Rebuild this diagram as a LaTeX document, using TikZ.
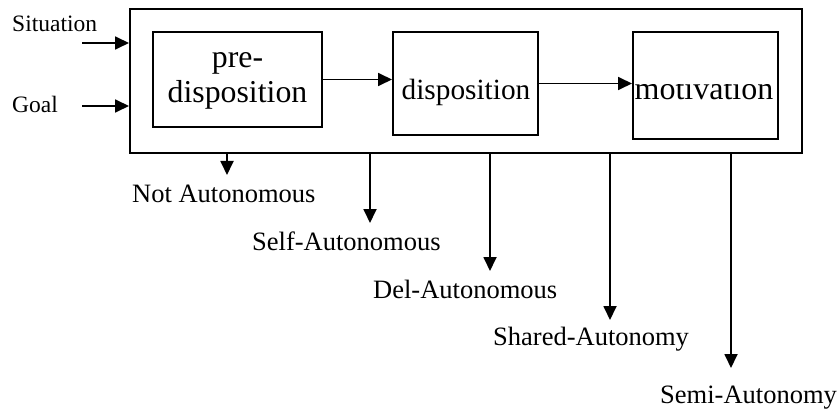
\documentclass[tikz,border=0pt]{standalone}
\usepackage{fontspec}
\setmainfont{Liberation Serif}
\usetikzlibrary{arrows.meta,positioning}

\begin{document}
\begin{tikzpicture}[x=1pt,y=-1pt,>={Triangle[length=14pt,width=13pt]},
    frame/.style={draw, line width=2pt, inner sep=0pt, minimum width=672pt, minimum height=144pt},
    stage/.style={draw, line width=2pt, inner sep=0pt},
    stagetext/.style={inner sep=0pt, anchor=base},
    input/.style={inner sep=0pt, anchor=base west, font=\fontsize{23.5}{27}\selectfont},
    outcome/.style={inner sep=0pt, anchor=base west, font=\fontsize{26.5}{30}\selectfont},
    link/.style={->, line width=1.8pt}]

      \useasboundingbox (0,0) rectangle (838,409);

      \node[frame] (agent) at (466,81) {};
      \node[stage, minimum width=169pt, minimum height=95pt] (pre) at (237.5,79.5) {};
      \node[stage, minimum width=145pt, minimum height=103pt] (disp) at (465.5,83.5) {};
      \node[stage, minimum width=145pt, minimum height=107pt] (motiv) at (705.5,85.5) {};

      \node[stagetext, anchor=center, align=center, font=\fontsize{31.8}{35}\selectfont] (preTxt) at (237.5,81) {pre-\\disposition};
      \node[stagetext, font=\fontsize{29.3}{33}\selectfont] (dispTxt) at (466,100) {disposition};
      \begin{scope}
        \clip (633,85) rectangle (778,101);
        \node[stagetext, font=\fontsize{32}{36}\selectfont] (motivTxt) at (704,99.5) {motivation};
      \end{scope}

      \node[input] (situation) at (12,32) {Situation};
      \node[input] (goal) at (12,113) {Goal};
      \coordinate (sitIn) at (82,43);
      \coordinate (goalIn) at (82,106);

      \node[outcome] (notA) at (132,202) {Not Autonomous};
      \node[outcome] (selfA) at (252,250) {Self-Autonomous};
      \node[outcome] (delA) at (373,298) {Del-Autonomous};
      \node[outcome] (sharedA) at (493,345) {Shared-Autonomy};
      \node[outcome] (semiA) at (660,403) {Semi-Autonomy};

      \coordinate (notTip) at (227,175);
      \coordinate (selfTip) at (370,223);
      \coordinate (delTip) at (490,271);
      \coordinate (sharedTip) at (610,320);
      \coordinate (semiTip) at (731,368);

       \path[link]
          (sitIn) edge (sitIn -| agent.west)
          (goalIn) edge (goalIn -| agent.west)
          (pre.east) edge (pre.east -| disp.west)
          (disp.east) edge (disp.east -| motiv.west)
          (notTip |- agent.south) edge (notTip)
          (selfTip |- agent.south) edge (selfTip)
          (delTip |- agent.south) edge (delTip)
          (sharedTip |- agent.south) edge (sharedTip)
          (semiTip |- agent.south) edge (semiTip)
      ;
  \end{tikzpicture}
\end{document}
